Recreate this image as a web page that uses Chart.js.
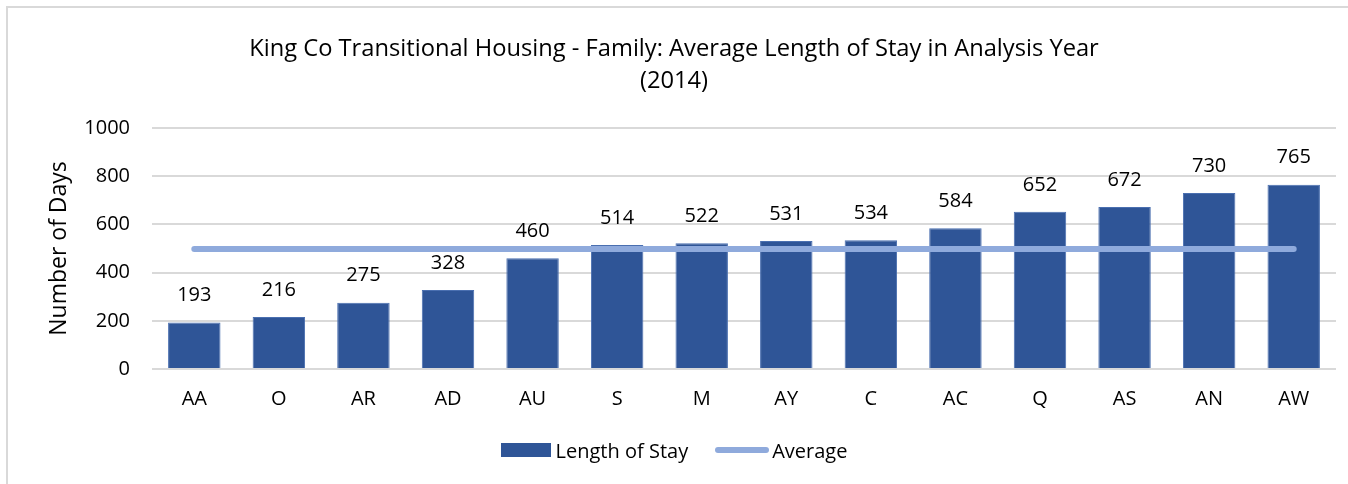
<!DOCTYPE html>
<html lang="en">
<head>
  <meta charset="UTF-8" />
  <title>King Co Transitional Housing - Family</title>
  <script src="https://cdn.jsdelivr.net/npm/chart.js"></script>
  <style>
    body { margin: 0; background: #fff; font-family: "Open Sans", sans-serif; }
    #wrap { position: relative; width: 1348px; height: 484px; }
    #frame { position: absolute; left: 6px; top: 6px; right: -10px; bottom: -10px; border: 2px solid #d9d9d9; pointer-events: none; }
    #legend { position: absolute; left: 0; width: 1348px; top: 437px; height: 26px; display: flex; justify-content: center; align-items: center; font-size: 20px; color: #000; }
    #legend .item { display: flex; align-items: center; }
    #legend .box { display: inline-block; width: 50px; height: 14px; background: #2f5597; margin-right: 5px; }
    #legend .line { display: inline-block; width: 54px; height: 6px; border-radius: 3px; background: #8faadc; margin-left: 27px; margin-right: 3px; }
  </style>
</head>
<body>
  <div id="wrap">
    <canvas id="chart" width="1348" height="484"></canvas>
    <div id="frame"></div>
    <div id="legend">
      <span class="item"><span class="box"></span>Length of Stay</span>
      <span class="item"><span class="line"></span>Average</span>
    </div>
  </div>
  <script>
    const categories = ["AA", "O", "AR", "AD", "AU", "S", "M", "AY", "C", "AC", "Q", "AS", "AN", "AW"];
    const lengthOfStay = [193, 216, 275, 328, 460, 514, 522, 531, 534, 584, 652, 672, 730, 765];
    const average = [498, 498, 498, 498, 498, 498, 498, 498, 498, 498, 498, 498, 498, 498];
    const yTicks = [0, 200, 400, 600, 800, 1000];

    const fontFamily = '"Open Sans", sans-serif';

    const valueLabels = {
      id: 'valueLabels',
      afterDatasetsDraw(chart) {
        const ctx = chart.ctx;
        const meta = chart.getDatasetMeta(1);
        ctx.save();
        ctx.font = '20px ' + fontFamily;
        ctx.fillStyle = '#000';
        ctx.textAlign = 'center';
        ctx.textBaseline = 'bottom';
        meta.data.forEach((bar, i) => {
          ctx.fillText(lengthOfStay[i], bar.x, bar.y - 17);
        });
        ctx.restore();
      }
    };

    new Chart(document.getElementById('chart'), {
      data: {
        labels: categories,
        datasets: [
          {
            type: 'line',
            label: 'Average',
            data: average,
            borderColor: '#8faadc',
            borderWidth: 6,
            borderCapStyle: 'round',
            pointRadius: 0,
            order: 0
          },
          {
            type: 'bar',
            label: 'Length of Stay',
            data: lengthOfStay,
            backgroundColor: '#2f5597',
            borderColor: '#4a6fb0',
            borderWidth: 1,
            categoryPercentage: 0.62,
            barPercentage: 1,
            order: 1
          }
        ]
      },
      options: {
        responsive: false,
        animation: false,
        layout: { padding: { left: 12, right: 12, top: 0, bottom: 63 } },
        plugins: {
          legend: { display: false },
          tooltip: { enabled: false },
          title: {
            display: true,
            text: ['King Co Transitional Housing - Family: Average Length of Stay in Analysis Year', '(2014)'],
            color: '#000',
            font: { family: fontFamily, size: 23.7, weight: 'normal', lineHeight: 1.35 },
            padding: { top: 33, bottom: 31 }
          }
        },
        scales: {
          x: {
            grid: { display: false },
            border: { display: false },
            ticks: { color: '#000', font: { family: fontFamily, size: 20 }, padding: 10 }
          },
          y: {
            min: 0,
            max: 1000,
            afterBuildTicks: axis => { axis.ticks = yTicks.map(v => ({ value: v })); },
            afterFit: axis => { axis.width = 140; },
            grid: { color: '#d9d9d9', lineWidth: 2, drawTicks: false },
            border: { display: false },
            ticks: { color: '#000', font: { family: fontFamily, size: 20 }, padding: 22, callback: v => String(v) },
            title: {
              display: true,
              text: 'Number of Days',
              color: '#000',
              font: { family: fontFamily, size: 23 },
              padding: { top: 34, bottom: 0 }
            }
          }
        }
      },
      plugins: [valueLabels]
    });
  </script>
</body>
</html>
